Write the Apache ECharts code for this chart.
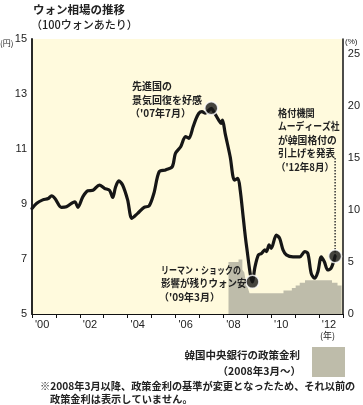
<!DOCTYPE html>
<html><head><meta charset="utf-8">
<script src="https://cdn.jsdelivr.net/npm/echarts@6/dist/echarts.min.js"></script>
<style>html,body{margin:0;padding:0;background:#fff}#c{width:363px;height:405px}</style>
</head><body><div id="c"></div>
<script>
// KRW/JPY per 100 won (decimal year, yen)
const wonYears = [2000.0,2000.2,2000.45,2000.68,2000.82,2000.96,2001.23,2001.44,2001.79,2001.92,
  2002.13,2002.34,2002.55,2002.82,2003.03,2003.24,2003.38,2003.49,2003.63,2003.79,
  2004.0,2004.18,2004.42,2004.69,2004.9,2005.1,2005.32,2005.59,2005.87,2006.0,
  2006.22,2006.42,2006.56,2006.74,2006.84,2006.98,2007.11,2007.25,2007.5,2007.6,
  2007.81,2007.92,2007.97,2008.08,2008.29,2008.47,2008.61,2008.71,2008.84,2008.97,
  2009.22,2009.33,2009.47,2009.6,2009.74,2009.81,2009.92,2010.01,2010.22,2010.36,
  2010.5,2010.64,2010.92,2011.2,2011.41,2011.54,2011.68,2011.82,2011.96,2012.1,
  2012.23,2012.37,2012.51,2012.68];
const wonValues = [8.84,9.03,9.15,9.2,9.3,9.2,8.88,8.9,9.08,8.88,
  9.27,9.48,9.5,9.69,9.57,9.5,9.24,9.6,9.84,9.69,
  9.15,8.48,8.66,8.88,8.93,9.39,10.17,10.24,10.36,10.84,
  11.08,11.45,11.39,11.81,12.05,12.3,12.36,12.3,12.48,12.36,
  12.05,11.93,12.05,11.57,10.72,9.87,9.93,9.5,8.48,7.5,
  6.17,6.72,7.15,7.2,7.33,7.27,7.51,7.39,7.87,7.75,
  7.33,7.15,7.08,7.08,7.27,7.2,6.48,6.3,6.54,7.08,
  6.9,6.6,6.66,7.1];
// highlighted points
const markerYears = [2007.5, 2009.22, 2012.68];
const markerValues = [12.48, 6.17, 7.1];
// Bank of Korea policy rate (%), from March 2008
const rateYears = [2008.22,2008.64,2008.8,2008.88,2008.95,2009.03,2009.1,2010.52,2010.87,2011.03,2011.2,2011.42,2012.55,2012.78,2012.95];
const rateValues = [5.0,5.25,4.25,4.0,3.0,2.5,2.0,2.25,2.5,2.75,3.0,3.25,3.0,2.75,2.75];
// dotted leader from annotation to the Aug 2012 point
const leaderYears = [2012.68, 2012.68];
const leaderValues = [10.67, 7.1];
// axis labels
const yLeftTicks = [5,7,9,11,13,15];
const yRightTicks = [0,5,10,15,20,25];
const xLabelYears = [2000,2002,2004,2006,2008,2010,2012];

const chart = echarts.init(document.getElementById('c'), null, {renderer:'canvas'});
const fam = '"Liberation Sans", Arial, sans-serif';
const jp = '"Noto Sans CJK JP", sans-serif';
const zip = (a,b)=>a.map((x,i)=>[x,b[i]]);
function t(text, x, y, font, sx, align){
  return {type:'text', x:x, y:y, scaleX:sx||1, z:100,
    style:{text:text, font:font, fill:'#222', align:align||'left', verticalAlign:'middle'}};
}
const aFont = 'bold 10px '+jp;
chart.setOption({
  animation:false,
  backgroundColor:'#ffffff',
  grid:{left:32,right:18,top:39,bottom:91,show:true,backgroundColor:'#fffadd',borderWidth:0},
  xAxis:{type:'value',min:2000,max:2013,interval:1,
    axisLine:{lineStyle:{color:'#111',width:1.2}},
    axisTick:{show:true,length:4,lineStyle:{color:'#111',width:1}},
    splitLine:{show:false},
    axisLabel:{color:'#222',fontSize:11,fontFamily:fam,margin:5,align:'left',padding:[0,0,0,3],
      formatter:v=>xLabelYears.includes(v)?"'"+String(v).slice(2):''}},
  yAxis:[
    {type:'value',min:5,max:15,interval:1,position:'left',
      axisLine:{show:true,lineStyle:{color:'#111',width:1.8}},axisTick:{show:false},splitLine:{show:false},
      axisLabel:{color:'#222',fontSize:11,fontFamily:fam,margin:5,
        formatter:v=>yLeftTicks.includes(v)?String(v):''}},
    {type:'value',min:0,max:26.44,interval:5,position:'right',
      axisLine:{show:true,lineStyle:{color:'#111',width:1.5}},axisTick:{show:false},splitLine:{show:false},
      axisLabel:{color:'#222',fontSize:11,fontFamily:fam,margin:5,
        formatter:v=>yRightTicks.includes(v)?String(v):''}}
  ],
  series:[
    {type:'line',yAxisIndex:1,step:'end',data:zip(rateYears,rateValues),symbol:'none',
      lineStyle:{width:0},areaStyle:{color:'#bebcaa',opacity:1},z:1},
    {type:'line',data:zip(leaderYears,leaderValues),symbol:'none',
      lineStyle:{color:'#333',width:1.5,type:[1.5,1.5]},z:2},
    {type:'line',data:zip(wonYears,wonValues),symbol:'none',smooth:0.3,
      lineStyle:{color:'#161616',width:3.2,cap:'round',join:'round'},z:3},
    {type:'scatter',data:zip(markerYears,markerValues),symbol:'circle',symbolSize:13,
      itemStyle:{color:'#161616',borderColor:'#fff',borderWidth:1.5},z:4}
  ],
  graphic:[
    t('ウォン相場の推移',33,10,'bold 11.5px '+jp),
    t('（100ウォンあたり）',31,25,'500 11px '+jp),
    t('(円)',0,43,'8px '+jp),
    t('(%)',345,42,'8px '+fam),
    t('(年)',320,336,'9px '+jp),
    t('先進国の',132,86,aFont),
    t('景気回復を好感',132,100,aFont),
    t("（'07年7月）",130,113.5,aFont),
    t('格付機関',278,113,aFont,0.92),
    t('ムーディーズ社',278,126.5,aFont,0.88),
    t('が韓国格付の',278,140,aFont,0.98),
    t('引上げを発表',278,153.5,aFont,0.95),
    t("（'12年8月）",276,167,aFont,0.95),
    t('リーマン・ショックの',161,270,aFont,0.8),
    t('影響が残りウォン安',161,283.5,aFont,0.95),
    t("（'09年3月）",159,297,aFont),
    t('韓国中央銀行の政策金利',300,355,'bold 10.5px '+jp,1,'right'),
    t('（2008年3月～）',301,371,'bold 10.5px '+jp,1,'right'),
    {type:'rect',left:312,top:347,z:100,shape:{width:33,height:30},style:{fill:'#bebcaa'}},
    t('※2008年3月以降、政策金利の基準が変更となったため、それ以前の',40,386,'bold 10.2px '+jp),
    t('政策金利は表示していません。',50,399,'bold 10.2px '+jp)
  ]
});
</script></body></html>
